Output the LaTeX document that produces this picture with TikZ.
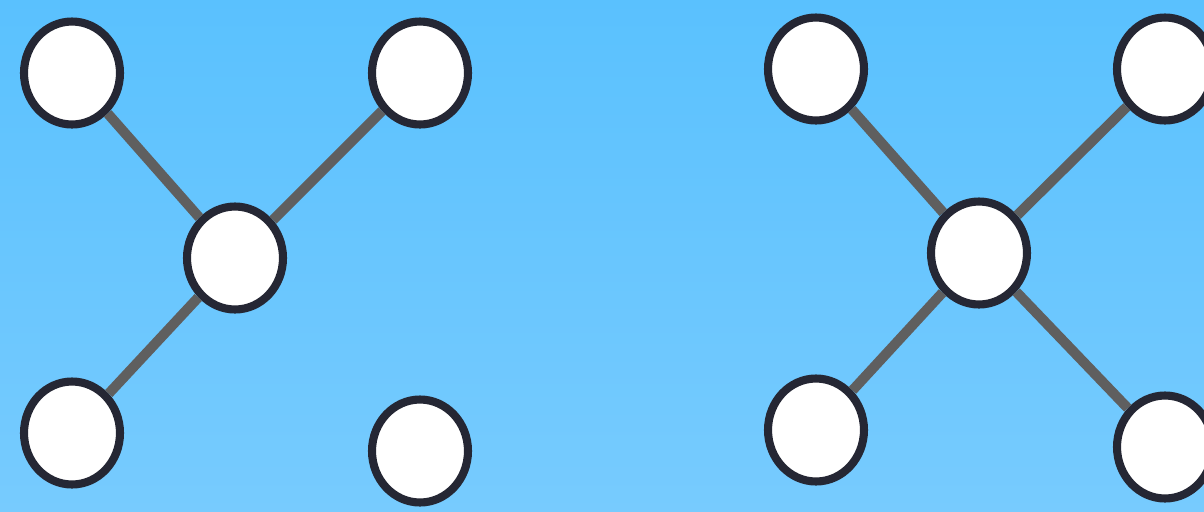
\documentclass[tikz,border=0pt]{standalone}
\usepackage{tikz}
\usetikzlibrary{shapes.geometric}
\definecolor{skytop}{HTML}{5AC1FE}
\definecolor{skybot}{HTML}{77CBFE}
\definecolor{rim}{HTML}{252734}
\definecolor{link}{HTML}{5F5F5F}
\begin{document}
\begin{tikzpicture}[x=0.02cm, y=-0.02cm,
  vertex/.style={ellipse, draw=rim, fill=white, line width=4.6pt, inner sep=0pt,
    minimum width=1.92cm, minimum height=2.06cm},
  edge/.style={draw=link, line width=5.7pt}]

  % --- background ---
  \shade[top color=skytop, bottom color=skybot] (0,0) rectangle (1204,511);
  \useasboundingbox (0,0) rectangle (1204,511);

  % --- left graph ---
  \node[vertex] (a1) at (72,73) {};
  \node[vertex] (a2) at (420,73) {};
  \node[vertex] (a3) at (235,258) {};
  \node[vertex] (a4) at (72,433) {};
  \node[vertex] (a5) at (420,451) {};

  \draw[edge] (a1) -- (a3);
  \draw[edge] (a2) -- (a3);
  \draw[edge] (a4) -- (a3);

  % --- right graph ---
  \node[vertex] (b1) at (816,69) {};
  \node[vertex] (b2) at (1165,69) {};
  \node[vertex] (b3) at (979,253) {};
  \node[vertex] (b4) at (816,430) {};
  \node[vertex] (b5) at (1165,447) {};

  \draw[edge] (b1) -- (b3);
  \draw[edge] (b2) -- (b3);
  \draw[edge] (b4) -- (b3);
  \draw[edge] (b5) -- (b3);

\end{tikzpicture}
\end{document}
